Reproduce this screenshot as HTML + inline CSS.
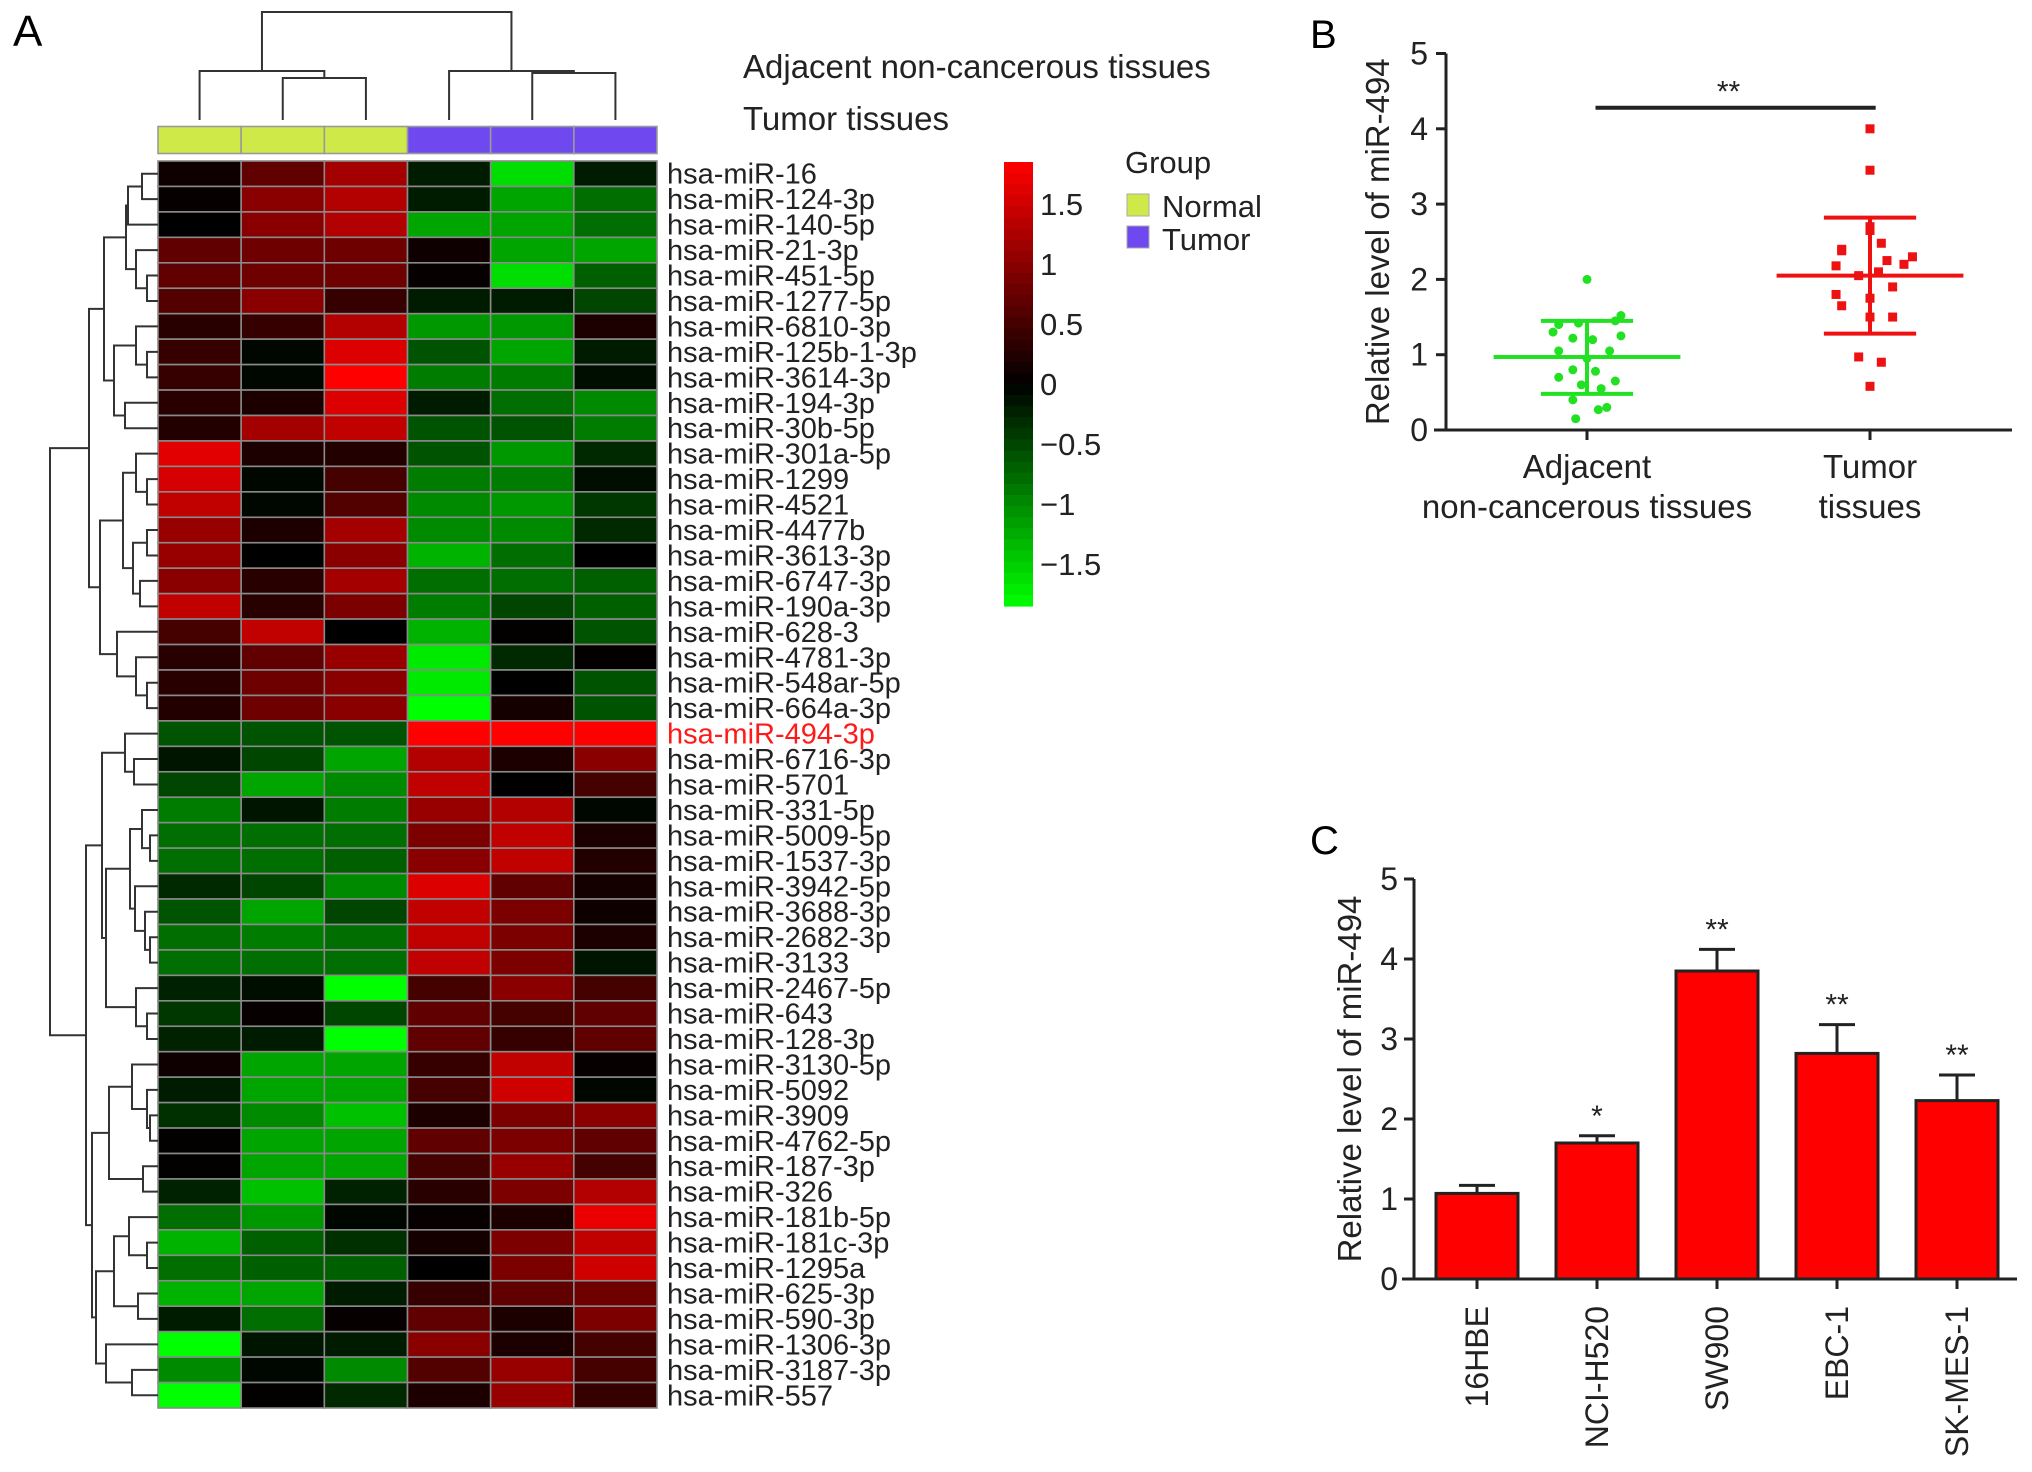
<!DOCTYPE html>
<html><head><meta charset="utf-8"><style>
html,body{margin:0;padding:0;background:#fff;}
svg{display:block;font-family:"Liberation Sans",Arial,sans-serif;}
</style></head><body>
<svg id="fig" width="2032" height="1472" viewBox="0 0 2032 1472" xmlns="http://www.w3.org/2000/svg">
<text x="13" y="46" font-size="44">A</text>
<text x="1310" y="48" font-size="40">B</text>
<text x="1310" y="854" font-size="40">C</text>
<g id="heat"></g>
<g id="rowdend"></g>
<g id="coldend"></g>
<g id="annot"></g>
<g id="rowlabels"></g>
<text x="743" y="78" font-size="33" fill="#222">Adjacent non-cancerous tissues</text>
<text x="743" y="130" font-size="33" fill="#222">Tumor tissues</text>
<g id="cbar"></g>
<g>
<text x="1125" y="173" font-size="31" fill="#222">Group</text>
<rect x="1127" y="194" width="22" height="22" fill="#cfe948" stroke="#aaa"/>
<text x="1162" y="217" font-size="31" fill="#222">Normal</text>
<rect x="1127" y="226" width="22" height="22" fill="#6f48f0" stroke="#aaa"/>
<text x="1162" y="250" font-size="31" fill="#222">Tumor</text>
</g>
<g id="panelB"></g>
<g id="panelC"></g>
</svg>
<script>
const NS='http://www.w3.org/2000/svg';
function mk(tag,attrs,parent,txt){const e=document.createElementNS(NS,tag);for(const k in attrs)e.setAttribute(k,attrs[k]);if(txt!==undefined)e.textContent=txt;parent.appendChild(e);return e;}

/* ---------- Panel A data ---------- */
const rowNames=['hsa-miR-16','hsa-miR-124-3p','hsa-miR-140-5p','hsa-miR-21-3p','hsa-miR-451-5p','hsa-miR-1277-5p','hsa-miR-6810-3p','hsa-miR-125b-1-3p','hsa-miR-3614-3p','hsa-miR-194-3p','hsa-miR-30b-5p','hsa-miR-301a-5p','hsa-miR-1299','hsa-miR-4521','hsa-miR-4477b','hsa-miR-3613-3p','hsa-miR-6747-3p','hsa-miR-190a-3p','hsa-miR-628-3','hsa-miR-4781-3p','hsa-miR-548ar-5p','hsa-miR-664a-3p','hsa-miR-494-3p','hsa-miR-6716-3p','hsa-miR-5701','hsa-miR-331-5p','hsa-miR-5009-5p','hsa-miR-1537-3p','hsa-miR-3942-5p','hsa-miR-3688-3p','hsa-miR-2682-3p','hsa-miR-3133','hsa-miR-2467-5p','hsa-miR-643','hsa-miR-128-3p','hsa-miR-3130-5p','hsa-miR-5092','hsa-miR-3909','hsa-miR-4762-5p','hsa-miR-187-3p','hsa-miR-326','hsa-miR-181b-5p','hsa-miR-181c-3p','hsa-miR-1295a','hsa-miR-625-3p','hsa-miR-590-3p','hsa-miR-1306-3p','hsa-miR-3187-3p','hsa-miR-557'];
const sampleGroups=['Normal','Normal','Normal','Tumor','Tumor','Tumor'];
const heatValues=[
[0.1,0.7,1.2,-0.2,-1.6,-0.2],[0.05,1.0,1.3,-0.2,-1.2,-0.8],[0,1.0,1.3,-1.2,-1.2,-0.8],[0.7,0.8,0.8,0.1,-1.2,-1.2],
[0.7,0.8,0.8,0.05,-1.6,-0.7],[0.6,1.0,0.4,-0.2,-0.2,-0.5],[0.3,0.4,1.3,-1.1,-1.1,0.2],[0.4,-0.05,1.6,-0.6,-1.2,-0.2],
[0.4,-0.05,1.85,-0.9,-0.9,-0.1],[0.3,0.2,1.6,-0.2,-0.8,-1.0],[0.25,1.2,1.4,-0.6,-0.6,-0.9],[1.65,0.2,0.25,-0.6,-1.1,-0.3],
[1.55,-0.05,0.5,-0.9,-0.9,-0.1],[1.4,-0.05,0.6,-1.0,-1.1,-0.4],[1.1,0.2,1.2,-1.0,-1.0,-0.3],[1.1,0.0,1.0,-1.3,-0.8,0.0],
[1.0,0.3,1.2,-0.8,-0.8,-0.7],[1.4,0.3,0.9,-0.9,-0.5,-0.7],[0.5,1.4,0.0,-1.3,0.02,-0.6],[0.3,0.7,1.1,-1.7,-0.3,0.02],
[0.3,0.8,1.0,-1.7,0.0,-0.6],[0.25,0.8,1.0,-1.85,0.15,-0.6],[-0.6,-0.6,-0.6,1.85,1.85,1.85],[-0.15,-0.5,-1.2,1.3,0.2,1.0],
[-0.5,-1.2,-1.0,1.4,0.0,0.5],[-0.9,-0.15,-0.9,1.1,1.3,-0.05],[-0.8,-0.8,-0.8,0.9,1.4,0.2],[-0.8,-0.8,-0.7,1.0,1.4,0.25],
[-0.3,-0.5,-1.0,1.6,0.7,0.15],[-0.6,-1.2,-0.5,1.4,0.9,0.1],[-0.8,-0.9,-0.8,1.4,0.9,0.2],[-0.8,-0.8,-0.8,1.4,0.9,-0.15],
[-0.25,-0.1,-1.85,0.5,1.0,0.5],[-0.4,0.05,-0.5,0.7,0.5,0.7],[-0.25,-0.2,-1.85,0.7,0.4,0.7],[0.1,-1.2,-1.2,0.4,1.4,0.05],
[-0.2,-1.2,-1.2,0.5,1.5,-0.05],[-0.35,-1.0,-1.4,0.2,0.9,1.0],[0.02,-1.2,-1.2,0.7,0.9,0.7],[0.02,-1.2,-1.2,0.5,1.1,0.5],
[-0.25,-1.4,-0.25,0.3,0.9,1.3],[-0.8,-1.1,-0.05,0.05,0.2,1.7],[-1.3,-0.7,-0.35,0.15,0.9,1.4],[-0.8,-0.7,-0.7,0.0,0.9,1.5],
[-1.3,-1.2,-0.2,0.4,0.7,0.8],[-0.2,-0.8,0.05,0.7,0.2,0.9],[-1.85,-0.15,-0.2,1.0,0.2,0.5],[-1.0,-0.05,-1.0,0.6,1.1,0.5],
[-1.85,0.02,-0.3,0.2,1.1,0.4]];
const colorTicks=[1.5,1,0.5,0,-0.5,-1,-1.5];
const colorTickLabels=['1.5','1','0.5','0','\u22120.5','\u22121','\u22121.5'];
const rowTree=[108,[69,[54,[32,[30,[16,0,1],2],[22,3,[11,4,5]]],[44,[22,6,[11,7,8]],[33,9,10]]],[58,[35,[22,11,[11,12,13]],[25,[11,14,15],[18,16,17]]],[41,18,[22,19,[11,20,21]]]]],[72,[56,[33,22,[24,23,24]],[52,[28,[16,25,[8,26,27]],[23,28,[13,29,[8,30,31]]]],[22,32,[11,33,34]]]],[66,[49,[26,35,[11,36,[8,37,38]]],[15,39,40]],[62,[44,[29,41,[11,42,43]],[20,44,45]],[52,46,[26,47,48]]]]]];
const colTree=[108,[49,0,[42,1,2]],[49,3,[47,4,5]]];

const HX0=158,HX1=657,HY0=161,HY1=1408;
const nRows=heatValues.length,nCols=heatValues[0].length;
const cw=(HX1-HX0)/nCols,rh=(HY1-HY0)/nRows;
const VMAX=1.85;
function heatColor(v){let t=Math.min(1,Math.abs(v)/VMAX);const c=Math.round(255*t);return v>=0?`rgb(${c},0,0)`:`rgb(0,${c},0)`;}
const heat=document.getElementById('heat');
heatValues.forEach((row,i)=>row.forEach((v,j)=>{
  const r=mk('rect',{x:HX0+j*cw,y:HY0+i*rh,width:cw,height:rh,fill:heatColor(v),stroke:'#8a8a8a','stroke-width':1.6},heat);
  
  
}));
const annot=document.getElementById('annot');
sampleGroups.forEach((g,j)=>{
  const r=mk('rect',{x:HX0+j*cw,y:126.5,width:cw,height:27,fill:g==='Normal'?'#cfe948':'#6f48f0',stroke:'#9a9a9a','stroke-width':1.6},annot);
  
  
});
const rl=document.getElementById('rowlabels');
rowNames.forEach((n,i)=>{
  const t=mk('text',{x:667,y:HY0+(i+0.5)*rh+10,'font-size':29,fill:n==='hsa-miR-494-3p'?'#ff1a1a':'#222'},rl,n);
  
  
});
const rd=document.getElementById('rowdend');
function drawRow(node){
  if(typeof node==='number')return {y:HY0+(node+0.5)*rh,x:HX0};
  const a=drawRow(node[1]),b=drawRow(node[2]);const x=HX0-node[0];
  const p=mk('path',{d:`M${a.x},${a.y}H${x}V${b.y}H${b.x}`,fill:'none',stroke:'#333','stroke-width':2},rd);
  
  
  return {x:x,y:(a.y+b.y)/2};
}
drawRow(rowTree);
const cd=document.getElementById('coldend');
function drawCol(node){
  if(typeof node==='number')return {x:HX0+(node+0.5)*cw,y:120};
  const a=drawCol(node[1]),b=drawCol(node[2]);const y=120-node[0];
  const p=mk('path',{d:`M${a.x},${a.y}V${y}H${b.x}V${b.y}`,fill:'none',stroke:'#333','stroke-width':2},cd);
  
  
  return {x:(a.x+b.x)/2,y:y};
}
drawCol(colTree);
const cb=document.getElementById('cbar');
const CB0=384,CBK=120;
function cbY(v){return CB0-v*CBK;}
for(let k=0;k<40;k++){
  const v1=VMAX-k*(2*VMAX/40),v2=v1-2*VMAX/40;
  const r=mk('rect',{x:1004,y:cbY(v1),width:29,height:cbY(v2)-cbY(v1)+0.6,fill:heatColor((v1+v2)/2)},cb);
  
  
}
colorTicks.forEach((v,i)=>{
  const t=mk('text',{x:1040,y:cbY(v)+11,'font-size':31,fill:'#222'},cb,colorTickLabels[i]);
  
  
});

/* ---------- Panel B data ---------- */
const bCategories=['Adjacent|non-cancerous tissues','Tumor|tissues'];
const bNormalVals=[2.0,1.52,1.45,1.42,1.4,1.3,1.25,1.22,1.2,1.05,1.05,0.95,0.8,0.78,0.7,0.65,0.6,0.55,0.4,0.3,0.27,0.15];
const bNormalJitter=[0,0.12,0.1,-0.03,-0.1,-0.12,0.12,-0.05,0.02,-0.1,0.08,0,-0.05,0.03,-0.1,0.1,-0.02,0.05,-0.05,0.07,0.04,-0.04];
const bTumorVals=[4.0,3.45,2.7,2.65,2.48,2.4,2.38,2.3,2.25,2.2,2.18,2.1,2.05,1.9,1.8,1.75,1.65,1.5,1.5,0.97,0.9,0.58];
const bTumorJitter=[0,0,0,0,0.04,-0.1,-0.1,0.15,0.06,0.12,-0.12,0.03,-0.04,0.08,-0.12,0,-0.1,0,0.08,-0.04,0.04,0];
const bMeans=[0.97,2.05];
const bSDupper=[1.45,2.82];
const bSDlower=[0.48,1.28];
const bYTicks=[0,1,2,3,4,5];
const bSig={y:4.28,label:'**'};

const pb=document.getElementById('panelB');
const BX0=1446,BX1=2012,BY0=430,BYK=75.3;
const bCatX=[1587,1870],bCatW=283;
function bY(v){return BY0-v*BYK;}
function bX(ci,off){return bCatX[ci]+(off||0)*bCatW;}
let e;
e=mk('line',{x1:BX0,y1:bY(5),x2:BX0,y2:BY0+1,stroke:'#222','stroke-width':3},pb);

e=mk('line',{x1:BX0-12,y1:BY0,x2:BX1,y2:BY0,stroke:'#222','stroke-width':3},pb);

bYTicks.forEach(v=>{
  const l=mk('line',{x1:BX0-10,y1:bY(v),x2:BX0,y2:bY(v),stroke:'#222','stroke-width':3},pb);
  
  
  const t=mk('text',{x:BX0-18,y:bY(v)+11,'font-size':32,'text-anchor':'end',fill:'#222'},pb,String(v));
  
  
});
e=mk('text',{x:0,y:0,'font-size':33,'text-anchor':'middle',fill:'#222',transform:`translate(1389,${(bY(5)+BY0)/2}) rotate(-90)`},pb,'Relative level of miR-494');

bCategories.forEach((c,i)=>{
  const l=mk('line',{x1:bX(i),y1:BY0,x2:bX(i),y2:BY0+10,stroke:'#222','stroke-width':3},pb);
  
  
  c.split('|').forEach((s,k)=>{
    const t=mk('text',{x:bX(i),y:478+k*40,'font-size':33,'text-anchor':'middle',fill:'#222'},pb,s);
    
    
  });
});
const bColors=['#22e022','#ee1111'];
[0,1].forEach(i=>{
  const col=bColors[i];
  let l=mk('line',{x1:bX(i,-0.33),x2:bX(i,0.33),y1:bY(bMeans[i]),y2:bY(bMeans[i]),stroke:col,'stroke-width':4},pb);
  
  l=mk('line',{x1:bX(i),x2:bX(i),y1:bY(bSDupper[i]),y2:bY(bSDlower[i]),stroke:col,'stroke-width':4},pb);
  
  [bSDupper[i],bSDlower[i]].forEach(v=>{
    const c=mk('line',{x1:bX(i,-0.163),x2:bX(i,0.163),y1:bY(v),y2:bY(v),stroke:col,'stroke-width':4},pb);
    
    
  });
});
bNormalVals.forEach((v,k)=>{
  const c=mk('circle',{cx:bX(0,bNormalJitter[k]),cy:bY(v),r:4.5,fill:'#22e022'},pb);
  
  
});
bTumorVals.forEach((v,k)=>{
  const c=mk('rect',{x:bX(1,bTumorJitter[k])-4.5,y:bY(v)-4.5,width:9,height:9,fill:'#ee1111'},pb);
  
  
});
e=mk('line',{x1:bX(0,0.03),x2:bX(1,0.02),y1:bY(bSig.y),y2:bY(bSig.y),stroke:'#222','stroke-width':4},pb);

e=mk('text',{x:(bX(0)+bX(1))/2,y:bY(bSig.y)-6,'font-size':30,'text-anchor':'middle',fill:'#222'},pb,bSig.label);


/* ---------- Panel C data ---------- */
const cCategories=['16HBE','NCI-H520','SW900','EBC-1','SK-MES-1'];
const cValues=[1.07,1.7,3.85,2.82,2.23];
const cErrors=[0.1,0.09,0.27,0.36,0.32];
const cStars=['','*','**','**','**'];
const cYTicks=[0,1,2,3,4,5];

const pc=document.getElementById('panelC');
const CX0=1414,CX1=2017,CY0=1279,CYK=80,cStep=120,cFirst=1477,cBarW=82;
function cY(v){return CY0-v*CYK;}
function cX(i){return cFirst+i*cStep;}
e=mk('line',{x1:CX0,y1:cY(5),x2:CX0,y2:CY0+1,stroke:'#222','stroke-width':3},pc);

e=mk('line',{x1:CX0-12,y1:CY0,x2:CX1,y2:CY0,stroke:'#222','stroke-width':3},pc);

cYTicks.forEach(v=>{
  const l=mk('line',{x1:CX0-10,y1:cY(v),x2:CX0,y2:cY(v),stroke:'#222','stroke-width':3},pc);
  
  
  const t=mk('text',{x:CX0-16,y:cY(v)+11,'font-size':32,'text-anchor':'end',fill:'#222'},pc,String(v));
  
  
});
e=mk('text',{x:0,y:0,'font-size':33,'text-anchor':'middle',fill:'#222',transform:`translate(1361,${(cY(5)+CY0)/2}) rotate(-90)`},pc,'Relative level of miR-494');

cCategories.forEach((c,i)=>{
  const x=cX(i),v=cValues[i],top=v+cErrors[i];
  let l=mk('line',{x1:x,x2:x,y1:cY(v),y2:cY(top),stroke:'#222','stroke-width':3},pc);
  
  l=mk('line',{x1:x-18,x2:x+18,y1:cY(top),y2:cY(top),stroke:'#222','stroke-width':3},pc);
  
  const r=mk('rect',{x:x-cBarW/2,y:cY(v),width:cBarW,height:CY0-cY(v),fill:'#ff0000',stroke:'#222','stroke-width':3},pc);
  
  
  if(cStars[i]){
    const s=mk('text',{x:x,y:cY(top)-10,'font-size':30,'text-anchor':'middle',fill:'#222'},pc,cStars[i]);
    
    
  }
  l=mk('line',{x1:x,x2:x,y1:CY0,y2:CY0+10,stroke:'#222','stroke-width':3},pc);
  
  const t=mk('text',{x:0,y:0,'font-size':32,'text-anchor':'end',fill:'#222',transform:`translate(${x+11},1306) rotate(-90)`},pc,c);
  
  
});
</script>
</body></html>
